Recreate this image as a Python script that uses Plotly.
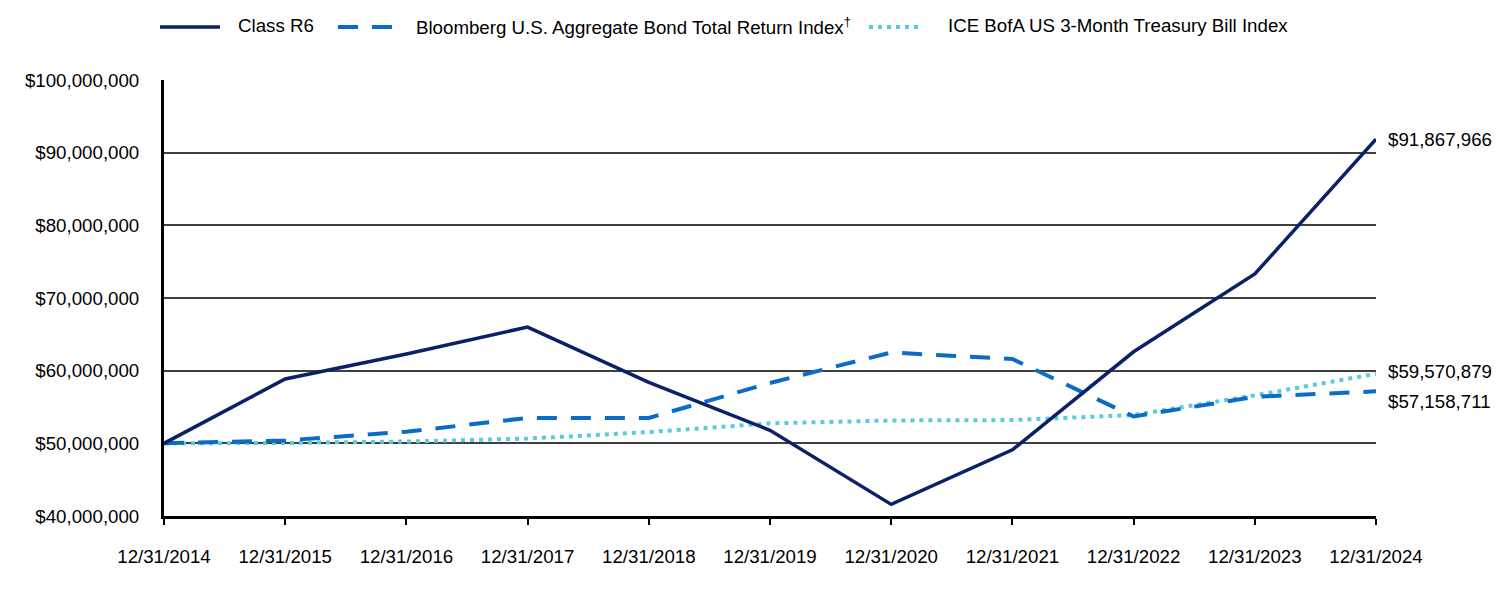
import plotly.graph_objects as go

dates = ["12/31/2014", "12/31/2015", "12/31/2016", "12/31/2017", "12/31/2018",
         "12/31/2019", "12/31/2020", "12/31/2021", "12/31/2022", "12/31/2023", "12/31/2024"]

class_r6 = [50000000, 58850000, 62300000, 66000000, 58400000, 51800000,
            41600000, 49100000, 62600000, 73300000, 91867966]
bloomberg = [50000000, 50400000, 51600000, 53500000, 53500000, 58300000,
             62500000, 61600000, 53700000, 56400000, 57158711]
ice = [50000000, 50050000, 50250000, 50650000, 51550000, 52750000,
       53150000, 53200000, 53900000, 56600000, 59570879]

names = ["Class R6", "Bloomberg U.S. Aggregate Bond Total Return Index<sup>†</sup>",
         "ICE BofA US 3-Month Treasury Bill Index"]
colors = ["#0A2168", "#0A6BC8", "#5ACBDC"]
widths = [3.5, 4, 4]
dashes = ["solid", "20px,14px", "4px,5px"]
end_labels = ["$91,867,966", "$57,158,711", "$59,570,879"]
end_shift = [0, -10, 2]

y_ticks = [40000000, 50000000, 60000000, 70000000, 80000000, 90000000, 100000000]
y_tick_text = ["${:,.0f}".format(v) for v in y_ticks]

FONT = "Liberation Sans, Arial, sans-serif"
FS = 18.7

fig = go.Figure()
x_idx = list(range(len(dates)))
for series, name, c, w, d in zip([class_r6, bloomberg, ice], names, colors, widths, dashes):
    fig.add_trace(go.Scatter(x=x_idx, y=series, mode="lines", name=name,
                             line=dict(color=c, width=w, dash=d), showlegend=False))

# Draw order: Class R6 on top
fig.data = (fig.data[2], fig.data[1], fig.data[0])

for series, lab, sh in zip([class_r6, bloomberg, ice], end_labels, end_shift):
    fig.add_annotation(x=x_idx[-1], y=series[-1], text=lab, showarrow=False,
                       xanchor="left", yanchor="middle", xshift=10, yshift=sh,
                       font=dict(size=FS, color="#000000", family=FONT))

# custom legend
leg_x = [(160, 220), (338, 393), (869, 923)]
leg_text_x = [237, 415, 947]
leg_line_y = 1 + (80 - 27) / 436.0
leg_text_y = 1 + (80 - 26) / 436.0
for (x0, x1), tx, name, c, w, d in zip(leg_x, leg_text_x, names, colors, widths, dashes):
    px0 = (x0 - 164) / 1212.0
    px1 = (x1 - 164) / 1212.0
    fig.add_shape(type="line", xref="paper", yref="paper", x0=px0, x1=px1,
                  y0=leg_line_y, y1=leg_line_y, line=dict(color=c, width=w, dash=d))
    fig.add_annotation(xref="paper", yref="paper", x=(tx - 164) / 1212.0, y=leg_text_y,
                       text=name, showarrow=False, xanchor="left", yanchor="middle",
                       xshift=-1, font=dict(size=FS, color="#000000", family=FONT))

fig.update_layout(
    width=1512, height=600,
    margin=dict(l=164, r=136, t=80, b=84),
    paper_bgcolor="white", plot_bgcolor="white",
    font=dict(family=FONT, size=FS, color="#000000"),
    showlegend=False,
)
fig.update_xaxes(
    range=[0, 10], tickmode="array", tickvals=x_idx, ticktext=dates,
    showgrid=False, zeroline=False,
    showline=True, linecolor="#000000", linewidth=3,
    ticks="outside", ticklen=6, tickwidth=1.5, tickcolor="#000000",
    ticklabelstandoff=16, tickfont=dict(size=FS, family=FONT),
)
fig.update_yaxes(
    range=[40000000, 100000000], tickmode="array", tickvals=y_ticks, ticktext=y_tick_text,
    showgrid=True, gridcolor="#404040", gridwidth=2, zeroline=False,
    showline=True, linecolor="#000000", linewidth=3,
    ticks="", ticklabelstandoff=18, tickfont=dict(size=FS, family=FONT),
)

fig.write_html("out.html")
